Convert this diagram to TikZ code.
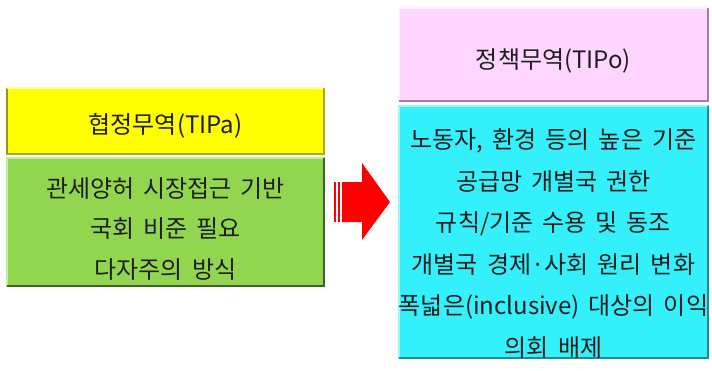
\documentclass[tikz,border=0pt]{standalone}
\usepackage{fontspec}
\setmainfont{Noto Sans CJK KR}
\newcommand{\boxfontA}{\fontsize{24}{40.5}\selectfont\spaceskip=9pt\relax}
\newcommand{\boxfontB}{\fontsize{24}{41.5}\selectfont\spaceskip=9pt\relax}
\definecolor{ylw}{RGB}{255,255,0}
\definecolor{ylwdark}{RGB}{150,150,20}
\definecolor{grn}{RGB}{146,214,80}
\definecolor{grndark}{RGB}{60,100,40}
\definecolor{pnk}{RGB}{255,214,255}
\definecolor{pnkdark}{RGB}{170,120,170}
\definecolor{cyn}{RGB}{52,240,250}
\definecolor{cyndark}{RGB}{30,140,150}
\definecolor{txt}{RGB}{30,30,30}
\tikzset{
  bevel/.style={line width=1.5pt},
  boxtext/.style={align=center, text=txt, font=\boxfontA, inner sep=0pt},
  widetext/.style={boxtext, font=\boxfontB},
}
\begin{document}
\begin{tikzpicture}[x=1pt,y=-1pt]
\useasboundingbox (0,0) rectangle (712,370);
% left header
\fill[ylw] (6,87) rectangle (325,155);
\draw[bevel,ylwdark] (7,155) -- (7,88);
\draw[bevel,white!70!ylw] (7,88) -- (324,88);
\draw[bevel,ylwdark!80!ylw] (324,88) -- (324,154) -- (7,154);
\node[boxtext] (tipa) at (165.5,126) {협정무역(TIPa)};
% left body
\fill[grn] (6,157) rectangle (325,287);
\draw[bevel,white!50!grn] (7,286) -- (7,158) -- (324,158);
\draw[bevel,grndark] (324,158) -- (324,286) -- (7,286);
\node[boxtext] (tipabody) at (165.5,229) {관세양허 시장접근 기반\\국회 비준 필요\\다자주의 방식};
% arrow
\fill[red] (334,182) rectangle (336,222);
\fill[red] (338,182) rectangle (340,222);
\fill[red] (342,182) -- (362,182) -- (362,163) -- (390,202) -- (362,240) -- (362,222) -- (342,222) -- cycle;
% right header
\fill[pnk] (398,7) rectangle (709,102);
\draw[bevel,white!60!pnk] (399,101) -- (399,8) -- (708,8);
\draw[bevel,pnkdark] (708,8) -- (708,101) -- (399,101);
\node[boxtext] (tipo) at (553.5,61) {정책무역(TIPo)};
% right body
\fill[cyn] (398,105) rectangle (709,359);
\draw[bevel,white!50!cyn] (399,358) -- (399,106) -- (708,106);
\draw[bevel,cyndark] (708,106) -- (708,358) -- (399,358);
\node[widetext] (tipobody) at (553.5,243.5) {노동자, 환경 등의 높은 기준\\공급망 개별국 권한\\규칙/기준 수용 및 동조\\개별국 경제·사회 원리 변화\\폭넓은(inclusive) 대상의 이익\\의회 배제};
\end{tikzpicture}
\end{document}
